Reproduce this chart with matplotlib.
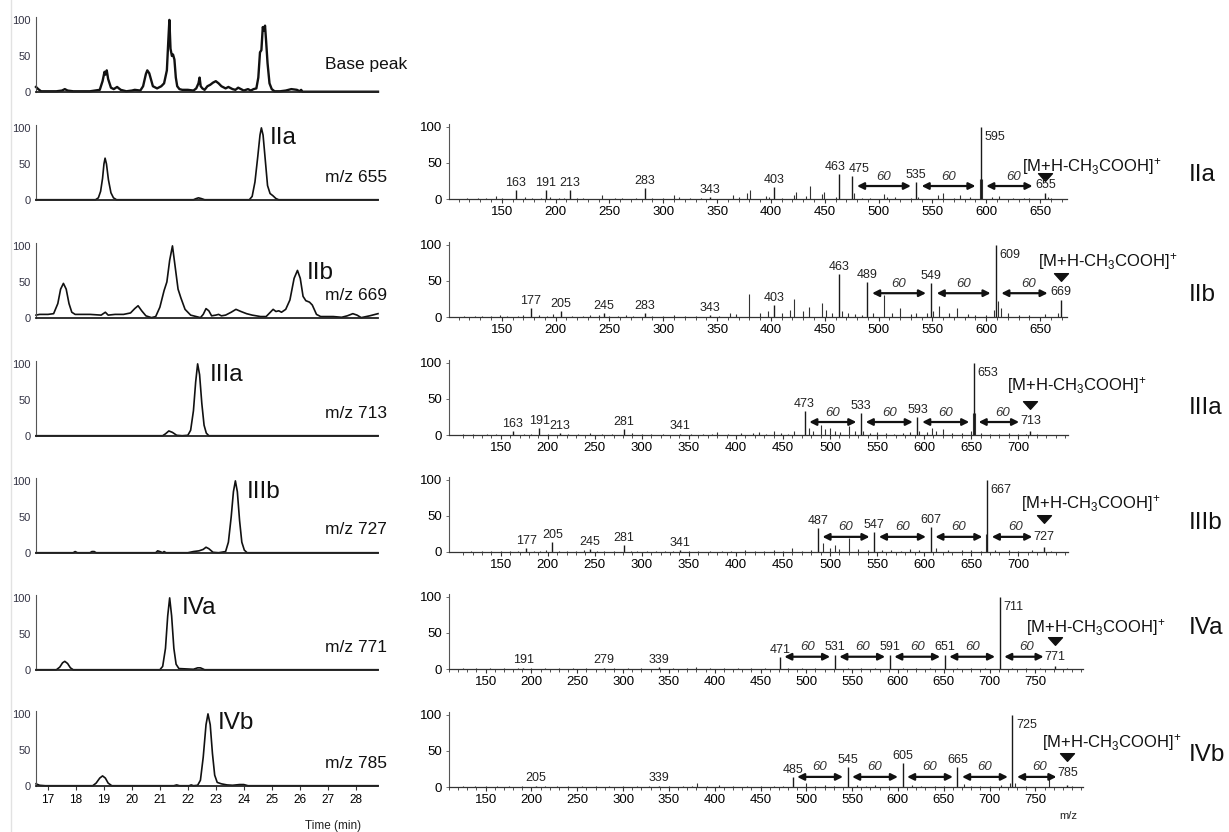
import numpy as np
import matplotlib
matplotlib.use('Agg')
import matplotlib.pyplot as plt
from matplotlib.path import Path

plt.rcParams['font.family'] = ['Liberation Sans', 'DejaVu Sans']
plt.rcParams['mathtext.fontset'] = 'custom'
plt.rcParams['mathtext.rm'] = 'Liberation Sans'
plt.rcParams['mathtext.it'] = 'Liberation Sans:italic'

# ---- extracted ion chromatograms: (time / min, relative intensity %) ----
bp_trace = [(16.57, 7), (16.65, 4), (16.75, 1), (17.3, 1), (17.5, 2), (17.6, 4), (17.7, 2), (17.9, 1),
            (18.5, 1), (18.85, 3), (18.95, 15), (19.02, 28), (19.05, 24), (19.1, 30), (19.15, 18),
            (19.25, 6), (19.35, 4), (19.47, 7), (19.6, 3), (19.8, 1), (20.0, 2), (20.1, 3), (20.3, 2),
            (20.4, 8), (20.5, 25), (20.55, 30), (20.62, 26), (20.75, 8), (20.9, 5), (21.05, 8),
            (21.15, 12), (21.25, 30), (21.3, 70), (21.34, 100), (21.38, 60), (21.43, 50), (21.47, 52),
            (21.52, 45), (21.57, 20), (21.62, 8), (21.7, 4), (21.8, 3), (22.0, 3), (22.2, 2), (22.3, 5),
            (22.38, 12), (22.42, 20), (22.46, 8), (22.52, 5), (22.6, 3), (22.7, 8), (22.8, 10),
            (22.9, 13), (23.0, 15), (23.1, 12), (23.2, 8), (23.35, 5), (23.45, 7), (23.6, 4), (23.7, 3),
            (23.8, 6), (24.0, 2), (24.15, 4), (24.25, 2), (24.35, 4), (24.45, 5), (24.52, 20),
            (24.58, 55), (24.63, 58), (24.68, 90), (24.72, 85), (24.76, 92), (24.8, 70), (24.85, 40),
            (24.92, 12), (25.0, 4), (25.1, 1), (25.3, 1), (25.5, 2), (25.7, 4), (25.9, 3), (26.0, 1),
            (26.05, 3), (26.1, 0.4), (26.5, 0.4), (28.8, 0.4)]

iia_trace = [(16.57, 0.4), (18.7, 0.4), (18.8, 3), (18.88, 12), (18.95, 30), (19.0, 50), (19.04, 58),
             (19.09, 50), (19.16, 28), (19.25, 10), (19.34, 3), (19.45, 0.4), (22.2, 0.4), (22.3, 2),
             (22.38, 3), (22.48, 2), (22.6, 0.4), (24.2, 0.4), (24.3, 5), (24.4, 25), (24.5, 60),
             (24.58, 90), (24.63, 100), (24.69, 90), (24.77, 55), (24.85, 20), (24.94, 9), (25.04, 6),
             (25.15, 2), (25.25, 0.4), (28.8, 0.4)]

iib_trace = [(16.57, 4), (16.7, 5), (17.0, 5), (17.2, 6), (17.35, 20), (17.45, 40), (17.55, 48),
             (17.65, 40), (17.75, 20), (17.85, 8), (17.97, 5), (18.5, 5), (18.9, 4), (19.05, 8),
             (19.15, 4), (19.4, 5), (19.7, 5), (19.95, 7), (20.1, 13), (20.22, 17), (20.35, 10),
             (20.5, 3), (20.7, 0.5), (20.85, 2), (21.0, 15), (21.15, 38), (21.25, 50), (21.35, 80),
             (21.45, 100), (21.55, 70), (21.65, 40), (21.75, 28), (21.9, 12), (22.1, 4), (22.3, 2),
             (22.45, 0.5), (22.55, 5), (22.65, 13), (22.75, 10), (22.85, 3), (23.0, 4), (23.1, 5),
             (23.2, 3), (23.35, 4), (23.55, 8), (23.72, 12), (23.9, 9), (24.1, 6), (24.3, 4),
             (24.6, 2), (24.8, 2), (24.95, 8), (25.05, 12), (25.15, 9), (25.25, 10), (25.35, 8),
             (25.5, 12), (25.65, 25), (25.8, 55), (25.92, 66), (26.02, 55), (26.12, 30), (26.22, 24),
             (26.35, 22), (26.45, 18), (26.6, 5), (26.75, 2), (27.2, 2), (27.5, 1), (27.7, 3),
             (27.9, 6), (28.05, 4), (28.2, 0.5), (28.5, 3), (28.8, 6)]

iiia_trace = [(16.57, 0.4), (21.1, 0.4), (21.2, 3), (21.32, 7), (21.45, 5), (21.6, 1), (21.8, 0.4),
              (22.0, 1), (22.1, 8), (22.2, 35), (22.28, 75), (22.35, 100), (22.42, 85), (22.5, 45),
              (22.58, 15), (22.66, 4), (22.75, 0.4), (28.8, 0.4)]

iiib_trace = [(16.57, 0.4), (17.9, 0.4), (17.97, 2), (18.05, 0.4), (18.5, 0.4), (18.57, 2), (18.65, 2),
              (18.72, 0.4), (20.85, 0.4), (20.92, 3), (21.0, 2), (21.1, 0.4), (21.15, 2), (21.22, 0.4),
              (22.0, 0.4), (22.2, 2), (22.4, 3), (22.55, 5), (22.65, 8), (22.75, 6), (22.9, 1),
              (23.1, 0.4), (23.35, 2), (23.45, 15), (23.55, 50), (23.63, 85), (23.7, 100), (23.77, 85),
              (23.85, 45), (23.93, 15), (24.02, 4), (24.12, 0.4), (28.8, 0.4)]

iva_trace = [(16.57, 0.4), (17.3, 0.4), (17.42, 4), (17.52, 10), (17.6, 12), (17.7, 9), (17.8, 3),
             (17.9, 0.4), (21.0, 0.4), (21.1, 5), (21.2, 30), (21.28, 75), (21.35, 100), (21.42, 75),
             (21.5, 30), (21.58, 8), (21.68, 2), (22.2, 1), (22.35, 3), (22.45, 3), (22.6, 0.4),
             (28.8, 0.4)]

ivb_trace = [(16.57, 3), (16.7, 1), (16.9, 0.4), (18.6, 0.4), (18.72, 4), (18.85, 11), (18.95, 14),
             (19.05, 11), (19.15, 4), (19.28, 0.4), (21.5, 0.4), (21.6, 1.5), (21.7, 0.4), (22.05, 0.4),
             (22.12, 1.5), (22.2, 0.4), (22.35, 1), (22.45, 8), (22.55, 40), (22.65, 85), (22.72, 100),
             (22.8, 85), (22.88, 45), (22.96, 15), (23.05, 5), (23.2, 3), (23.4, 1.5), (23.6, 1),
             (23.85, 2), (24.0, 2), (24.15, 0.4), (28.8, 0.4)]

chrom_labels = ['Base peak', 'm/z 655', 'm/z 669', 'm/z 713', 'm/z 727', 'm/z 771', 'm/z 785']
compounds = ['IIa', 'IIb', 'IIIa', 'IIIb', 'IVa', 'IVb']
time_ticks = list(range(17, 29))

# ---- MS/MS spectra: labelled fragments and small unlabelled ions (m/z, %) ----
iia_peaks = [(163, 12), (191, 13), (213, 12), (283, 15), (343, 3), (403, 17), (463, 35), (475, 32),
             (535, 24), (595, 100), (655, 8)]
iia_minor = [(118, 1.5), (128, 1), (135, 1.5), (145, 4), (150, 2), (172, 3), (178, 2), (186, 2), (195, 3),
             (203, 2), (208, 1.5), (220, 1.5), (225, 1), (243, 5), (255, 1.5), (262, 2), (275, 2), (290, 2),
             (300, 1.5), (310, 6), (315, 3), (325, 1.5), (335, 1.5), (365, 6), (370, 3), (378, 8), (381, 12),
             (395, 4), (398, 3), (410, 2), (421, 6), (423, 10), (433, 4), (436, 18), (447, 7), (449, 10),
             (460, 3), (477, 8), (485, 2), (492, 2), (505, 7), (508, 3), (515, 3), (530, 1.5), (537, 3),
             (555, 6), (560, 8), (570, 2), (576, 5), (585, 3), (594, 28), (596, 28), (605, 3), (612, 4),
             (625, 2), (635, 2), (640, 1.5), (657, 3), (660, 1)]
iia_ladder = [475, 535, 595, 655]

iib_peaks = [(177, 12), (205, 8), (245, 6), (283, 6), (343, 3), (403, 17), (463, 60), (489, 48),
             (549, 47), (609, 100), (669, 24)]
iib_minor = [(115, 2), (125, 1.5), (132, 2), (140, 2), (148, 3), (155, 2), (165, 2), (170, 3), (185, 3),
             (192, 2), (198, 4), (215, 2), (225, 2), (232, 3), (240, 3), (250, 2), (258, 2), (265, 3),
             (272, 2), (290, 2), (300, 2), (310, 3), (320, 2), (330, 2), (352, 2), (362, 6), (368, 4),
             (380, 32), (390, 5), (397, 8), (410, 5), (418, 10), (421, 25), (430, 8), (435, 14), (447, 20),
             (451, 10), (457, 5), (466, 8), (472, 5), (478, 4), (485, 3), (495, 6), (505, 30), (512, 5),
             (520, 12), (530, 4), (535, 6), (545, 5), (551, 8), (556, 15), (565, 5), (573, 12), (583, 4),
             (590, 3), (600, 3), (607, 10), (611, 22), (614, 12), (620, 6), (630, 3), (640, 3), (655, 4),
             (667, 5)]
iib_ladder = [489, 549, 609, 669]

iiia_peaks = [(163, 6), (191, 10), (213, 3), (281, 8), (341, 2), (473, 33), (533, 30), (593, 25),
              (653, 100), (713, 5)]
iiia_minor = [(110, 1), (120, 1.5), (135, 2), (145, 1.5), (175, 2), (182, 1.5), (200, 2), (222, 2),
              (232, 1.5), (245, 3), (258, 2), (268, 2), (290, 3), (300, 1.5), (310, 2), (322, 1.5), (352, 2),
              (365, 2), (375, 2), (380, 4), (392, 2), (405, 3), (418, 3), (425, 4), (432, 2), (440, 5),
              (448, 3), (455, 2), (462, 5), (478, 10), (482, 6), (490, 14), (495, 8), (500, 10), (505, 6),
              (511, 4), (520, 12), (527, 5), (535, 6), (543, 3), (550, 4), (560, 3), (568, 2), (578, 3),
              (585, 4), (595, 6), (603, 4), (608, 10), (613, 6), (620, 8), (630, 3), (640, 3), (650, 5),
              (652, 30), (654, 30), (660, 3), (670, 2), (680, 2), (690, 3), (700, 2), (708, 2), (720, 1.5)]
iiia_ladder = [473, 533, 593, 653, 713]

iiib_peaks = [(177, 6), (205, 14), (245, 4), (281, 10), (341, 3), (487, 33), (547, 28), (607, 35),
              (667, 100), (727, 7)]
iiib_minor = [(118, 1.5), (130, 2), (140, 2), (150, 1.5), (160, 2), (168, 1.5), (185, 2), (192, 2),
              (198, 3), (212, 2), (220, 2), (230, 2), (238, 3), (252, 2), (260, 2), (270, 2), (288, 2),
              (295, 2), (305, 2), (315, 2), (325, 2), (333, 2), (350, 2), (360, 2), (372, 2), (385, 2),
              (395, 2), (410, 3), (420, 2), (430, 2), (440, 3), (450, 2), (460, 5), (470, 2), (480, 3),
              (493, 12), (500, 5), (505, 10), (510, 4), (520, 20), (530, 4), (540, 3), (555, 3), (565, 3),
              (575, 2), (585, 4), (595, 3), (613, 5), (625, 3), (640, 3), (650, 3), (660, 2), (666, 25),
              (675, 3), (690, 3), (700, 2), (715, 3), (735, 2)]
iiib_ladder = [487, 547, 607, 667, 727]

iva_peaks = [(191, 2), (279, 2), (339, 3), (471, 17), (531, 20), (591, 20), (651, 20), (711, 100),
             (771, 4)]
iva_minor = [(125, 1), (140, 1), (155, 1.5), (170, 1), (185, 1.5), (200, 1), (215, 1.5), (230, 1),
             (245, 1.5), (260, 1), (290, 1.5), (305, 1), (320, 1.5), (355, 1.5), (370, 1), (380, 3),
             (395, 1), (410, 2), (425, 1), (440, 1.5), (455, 1), (480, 2), (495, 1.5), (510, 2), (545, 2),
             (560, 1.5), (575, 2), (605, 2), (620, 1.5), (635, 2), (665, 2), (680, 1.5), (695, 2), (725, 2),
             (740, 1.5), (755, 2), (785, 1)]
iva_ladder = [471, 531, 591, 651, 711, 771]

ivb_peaks = [(205, 2), (339, 2), (485, 14), (545, 28), (605, 33), (665, 28), (725, 100), (785, 3)]
ivb_minor = [(125, 1), (138, 1.5), (150, 1), (162, 1.5), (175, 1.5), (190, 1), (215, 2), (228, 1.5),
             (240, 1), (255, 1.5), (270, 1), (285, 1.5), (300, 1), (315, 1.5), (328, 1), (350, 1),
             (365, 1.5), (375, 2), (381, 5), (392, 1.5), (405, 3), (420, 1.5), (435, 1), (450, 1.5),
             (465, 1), (475, 1.5), (500, 5), (510, 2), (520, 3), (530, 2), (555, 3), (565, 2), (575, 3),
             (590, 2), (615, 3), (625, 2), (640, 2), (650, 2), (672, 4), (680, 2), (690, 2), (700, 2),
             (712, 3), (722, 5), (728, 5), (740, 2), (765, 12), (790, 1)]
ivb_ladder = [485, 545, 605, 665, 725, 785]

neutral_loss = '60'
precursor_text = r'[M+H-CH$_3$COOH]$^{+}$'

# ---- layout (pixels on a 1229 x 832 canvas) ----
W, H = 1229, 832
fig = plt.figure(figsize=(W / 100, H / 100), dpi=100)
AX_H = 75  # 0-104 % spans 75 px

# wide, flat downward triangle
flat_tri = Path([(-1, 0.55), (1, 0.55), (0, -0.55), (-1, 0.55)],
                [Path.MOVETO, Path.LINETO, Path.LINETO, Path.CLOSEPOLY])


def px_axes(x0, x1, ybase):
    return fig.add_axes([x0 / W, 1 - ybase / H, (x1 - x0) / W, AX_H / H])


def fig_text(x, y, s, **kw):
    fig.text(x / W, 1 - y / H, s, **kw)


# faint page edge on the left
fig.add_artist(plt.Line2D([11 / W, 11 / W], [0, 1], color='#e2e2e2', lw=1))

chrom_traces = [bp_trace, iia_trace, iib_trace, iiia_trace, iiib_trace, iva_trace, ivb_trace]
chrom_base = [92, 200, 318, 436, 553, 670, 786]
cmpd_pos = [(270, 138), (307, 273), (210, 375), (247, 492), (182, 608), (218, 723)]
mz_label_y = [64, 178, 296, 413, 529, 647, 763]

for i, trace in enumerate(chrom_traces):
    ax = px_axes(36, 378, chrom_base[i])
    t, y = np.array(trace).T
    ax.plot(t, y, color='#111111', lw=1.7 if i == 0 else 1.2, clip_on=False, solid_joinstyle='round')
    ax.set_xlim(16.57, 28.8)
    ax.set_ylim(0, 104)
    for s in ['top', 'right']:
        ax.spines[s].set_visible(False)
    ax.spines['left'].set_color('#555555')
    ax.spines['left'].set_linewidth(0.8)
    ax.spines['bottom'].set_color('#222222')
    ax.spines['bottom'].set_linewidth(1.3)
    ax.set_yticks([0, 50, 100])
    ax.tick_params(axis='y', length=0, labelsize=8, pad=4, labelcolor='#333344')
    if i == len(chrom_traces) - 1:
        ax.set_xticks(time_ticks)
        ax.tick_params(axis='x', length=3, width=0.8, labelsize=8.5, pad=3, color='#333333')
    else:
        ax.set_xticks([])
    fig_text(325, mz_label_y[i], chrom_labels[i], fontsize=12.5, va='center', ha='left', color='#111111')
    if i > 0:
        cx, cy = cmpd_pos[i - 1]
        fig_text(cx, cy, compounds[i - 1], fontsize=17.5, va='center', ha='left', color='#111111')

fig_text(333, 826, 'Time (min)', fontsize=8.5, ha='center', va='center', color='#222222')

# spectra panels
spec_peaks = [iia_peaks, iib_peaks, iiia_peaks, iiib_peaks, iva_peaks, ivb_peaks]
spec_minor = [iia_minor, iib_minor, iiia_minor, iiib_minor, iva_minor, ivb_minor]
spec_ladder = [iia_ladder, iib_ladder, iiia_ladder, iiib_ladder, iva_ladder, ivb_ladder]
spec_xlim = [(101, 675), (101, 675), (95, 753), (95, 753), (116.5, 802), (116.5, 802)]
spec_right = [1067, 1067, 1068, 1068, 1083, 1083]
spec_base = [199, 317, 435, 552, 669, 787]
arrow_y = [18, 33, 18, 21, 17, 14]
sixty_y = [31, 46, 31, 34, 30, 28]
mh_text_y = [45, 77, 68, 67, 58, 62]
tri_y = [30, 56, 42, 46, 39, 42]
last_y = [20, 35, 19, 21, 17, 19]
mh_shift = [-23, -23, -23, -23, -29, -25]
roman_y = [175, 295, 408, 523, 628, 755]
label_nudge = {(0, 475): 7, (0, 463): -4}  # px shift for crowded labels

for k in range(6):
    ax = px_axes(449, spec_right[k], spec_base[k])
    lo, hi = spec_xlim[k]
    ax.set_xlim(lo, hi)
    ax.set_ylim(0, 104)
    mn, hn = np.array(spec_minor[k]).T
    ax.vlines(mn, 0, hn, color='#333333', lw=0.8)
    mz, h = np.array(spec_peaks[k]).T
    ax.vlines(mz, 0, h, color='#1a1a1a', lw=1.0)

    ladder = spec_ladder[k]
    top = mz[np.argmax(h)]
    for m, hv in zip(mz, h):
        lab = f'{int(m)}'
        if m == top:
            ax.annotate(lab, xy=(m, 86), xytext=(2.5, 0), textcoords='offset points',
                        ha='left', va='center', fontsize=9, color='#222222', annotation_clip=False)
        elif m == ladder[-1]:
            ax.text(m, last_y[k], lab, ha='center', va='center', fontsize=9, color='#222222')
        else:
            dx = label_nudge.get((k, int(m)), 0) * 0.72
            ax.annotate(lab, xy=(m, hv + 1.5), xytext=(dx, 0), textcoords='offset points',
                        ha='center', va='bottom', fontsize=9, color='#222222')

    # neutral losses of 60 between successive fragments
    for j in range(len(ladder) - 1):
        a, b = ladder[j], ladder[j + 1]
        end = b - 12 if j == len(ladder) - 2 else b - 5
        ax.annotate('', xy=(end, arrow_y[k]), xytext=(a + 5, arrow_y[k]),
                    arrowprops=dict(arrowstyle='<|-|>', lw=1.6, color='#111111',
                                    mutation_scale=10, shrinkA=0, shrinkB=0))
        ax.text((a + b) / 2, sixty_y[k], neutral_loss, ha='center', va='center',
                fontsize=9.5, style='italic', color='#333333')

    prec = ladder[-1]
    ax.plot(prec, tri_y[k], marker=flat_tri, ms=10, color='#111111', clip_on=False)
    ax.annotate(precursor_text, xy=(prec, mh_text_y[k]), xytext=(mh_shift[k] * 0.72, 0),
                textcoords='offset points', ha='left', va='center', fontsize=12,
                color='#111111', annotation_clip=False)

    for s in ['top', 'right']:
        ax.spines[s].set_visible(False)
    ax.spines['left'].set_color('#555555')
    ax.spines['left'].set_linewidth(0.8)
    ax.spines['bottom'].set_color('#333333')
    ax.spines['bottom'].set_linewidth(0.9)
    ax.set_xticks(np.arange(150, hi - 10, 50))
    ax.set_xticks(np.arange(110, hi, 10), minor=True)
    ax.set_yticks([0, 50, 100])
    ax.tick_params(axis='x', which='major', length=3, width=0.8, labelsize=9.5, pad=2, color='#333333')
    ax.tick_params(axis='x', which='minor', length=2, width=0.6, color='#333333')
    ax.tick_params(axis='y', length=2, width=0.6, labelsize=9.5, pad=3, color='#555555')

    fig_text(1189, roman_y[k], compounds[k], fontsize=17.5, ha='left', va='center', color='#111111')

fig_text(1068, 816, 'm/z', fontsize=8, ha='center', va='center', color='#222222')

fig.savefig('out.png', dpi=100)
